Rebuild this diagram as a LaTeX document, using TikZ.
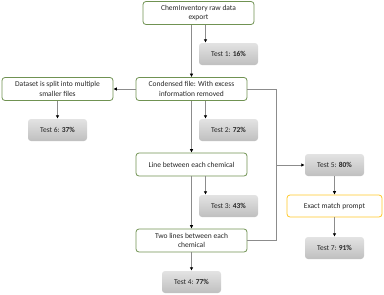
\documentclass[tikz,border=0pt]{standalone}
\usepackage{fontspec}
\setmainfont{Carlito}
\usepackage{tikz}
\usetikzlibrary{arrows.meta, positioning, calc}

\definecolor{boxgreen}{RGB}{112,146,82}
\definecolor{boxyellow}{RGB}{255,200,40}
\definecolor{linkgray}{RGB}{140,140,140}

\tikzset{
  stage/.style={draw=boxgreen, thick, fill=white, rounded corners=3pt, align=center,
    minimum width=111pt, minimum height=23pt, inner sep=1pt, text=black!85,
    font=\fontsize{7.5}{9.5}\selectfont},
  result/.style={rounded corners=3pt, top color=gray!22, bottom color=gray!50, align=center,
    minimum width=59pt, minimum height=22pt, inner sep=1pt, text=black!85,
    font=\fontsize{7.5}{9.5}\selectfont},
  prompt/.style={stage, draw=boxyellow, minimum width=95pt, minimum height=22pt},
  link/.style={draw=linkgray, line width=0.7pt},
  linkarrow/.style={link, -{Latex[length=3.5pt,width=3.5pt,color=black]}}
}

\begin{document}
\begin{tikzpicture}[x=1pt, y=-1pt]
            \useasboundingbox (0,0) rectangle (384,295);
            % boxes
            \node[stage] (chem) at (198.5,13) {ChemInventory raw data\\export};
            \node[result] (t1) at (228.5,54) {Test 1: \textbf{16\%}};
            \node[stage] (cond) at (191.5,89) {Condensed file: With excess\\information removed};
            \node[stage] (split) at (57.5,89) {Dataset is split into multiple\\smaller files};
            \node[result] (t6) at (57.5,130) {Test 6: \textbf{37\%}};
            \node[result] (t2) at (228.5,130) {Test 2: \textbf{72\%}};
            \node[stage] (line) at (191.5,164.5) {Line between each chemical};
            \node[result] (t3) at (228.5,206) {Test 3: \textbf{43\%}};
            \node[stage] (two) at (191.5,240.5) {Two lines between each\\chemical};
            \node[result] (t4) at (191.5,282) {Test 4: \textbf{77\%}};
            \node[result] (t5) at (334.5,165) {Test 5: \textbf{80\%}};
            \node[prompt] (exact) at (334.5,206) {Exact match prompt};
            \node[result] (t7) at (334.5,248) {Test 7: \textbf{91\%}};
            \coordinate (join) at (276,165);
            % connectors
            \draw[linkarrow] (chem.south -| cond.north) -- (cond.north);
            \draw[linkarrow] ([xshift=7pt]chem.south) -- ([xshift=7pt]chem.south |- t1.north);
            \draw[linkarrow] (cond.west) -- (split.east);
            \draw[linkarrow] (split.south) -- (t6.north);
            \draw[linkarrow] ([xshift=14pt]cond.south) -- ([xshift=14pt]cond.south |- t2.north);
            \draw[linkarrow] (cond.south) -- (line.north);
            \draw[linkarrow] ([xshift=14pt]line.south) -- ([xshift=14pt]line.south |- t3.north);
            \draw[linkarrow] (line.south) -- (two.north);
            \draw[linkarrow] (two.south) -- (t4.north);
            \draw[link] (cond.east) -| (join);
            \draw[link] (two.east) -| (join);
            \draw[linkarrow] (join) -- (t5.west);
            \draw[linkarrow] (t5.south) -- (exact.north);
            \draw[linkarrow] (exact.south) -- (t7.north);
        \end{tikzpicture}
\end{document}
